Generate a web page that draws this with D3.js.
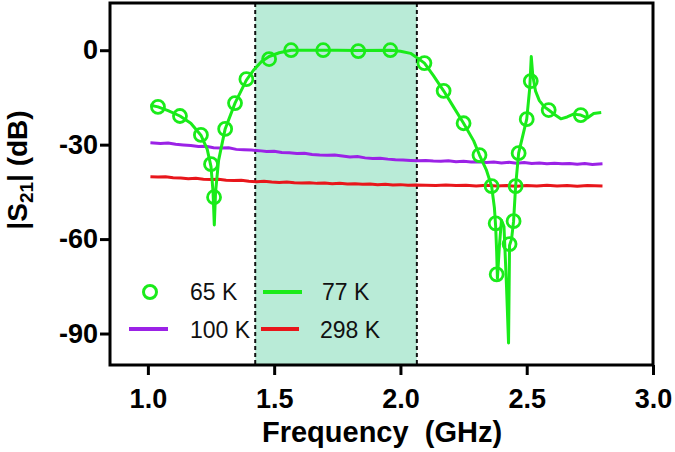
<!DOCTYPE html>
<html><head><meta charset="utf-8">
<script src="https://cdn.jsdelivr.net/npm/d3@7/dist/d3.min.js"></script>
<style>body{margin:0;background:#fff}svg{display:block}</style>
</head><body>
<svg id="c" width="675" height="452"></svg>
<script>
// ---------- data ----------
const xTicks = [1.0, 1.5, 2.0, 2.5, 3.0];
const yTicks = [0, -30, -60, -90];
const band = [1.425, 2.065];

// 65 K (markers)
const f65 = [1.04,1.127,1.21,1.25,1.262,1.306,1.345,1.39,1.48,1.567,1.694,1.833,1.96,2.095,2.171,2.25,2.313,2.361,2.377,2.381,2.432,2.448,2.456,2.468,2.50,2.516,2.587,2.714];
const s65 = [-18.0,-20.9,-26.9,-36.2,-46.7,-25.0,-16.8,-9.2,-2.8,0,0,-0.3,0,-4.1,-12.9,-23.2,-33.3,-43.2,-55.0,-71.2,-61.6,-54.3,-43.2,-32.7,-21.9,-9.8,-19.0,-20.6];

// 77 K (line)
const f77 = [1.01,1.04,1.08,1.127,1.17,1.21,1.235,1.25,1.258,1.263,1.268,1.28,1.306,1.345,1.39,1.42,1.45,1.48,1.52,1.567,1.65,1.75,1.833,1.96,2.0,2.04,2.07,2.095,2.13,2.171,2.21,2.25,2.29,2.313,2.34,2.361,2.372,2.377,2.381,2.384,2.392,2.40,2.41,2.42,2.428,2.432,2.44,2.448,2.456,2.468,2.50,2.512,2.518,2.524,2.535,2.55,2.57,2.587,2.61,2.635,2.66,2.685,2.714,2.74,2.765,2.795];
const s77 = [-17.5,-18.0,-19.2,-20.9,-23.2,-27.0,-31.5,-37.0,-45.0,-55.5,-45.0,-35.0,-25.0,-16.8,-9.5,-6.2,-3.6,-2.0,-0.8,0,0,0,-0.1,0,-0.3,-1.0,-2.6,-4.1,-8.0,-12.9,-18.0,-23.2,-28.8,-33.3,-38.0,-43.2,-50.0,-56.0,-64.0,-72.5,-62.0,-54.0,-56.0,-75.0,-93.0,-62.0,-60.0,-54.3,-43.2,-32.7,-21.9,-12.0,-2.0,-8.0,-13.0,-16.0,-18.0,-19.0,-20.4,-21.8,-21.2,-20.3,-20.6,-21.5,-20.1,-19.8];

// 100 K (line)
const f100 = [1.01,1.05,1.08,1.11,1.14,1.17,1.20,1.23,1.26,1.29,1.32,1.35,1.38,1.41,1.44,1.47,1.50,1.53,1.56,1.59,1.62,1.65,1.68,1.71,1.74,1.77,1.80,1.83,1.86,1.89,1.92,1.95,1.98,2.01,2.04,2.07,2.10,2.13,2.16,2.19,2.22,2.25,2.28,2.31,2.34,2.37,2.40,2.43,2.46,2.49,2.52,2.55,2.58,2.61,2.64,2.67,2.70,2.73,2.76,2.80];
const s100 = [-29.4,-29.6,-29.5,-29.9,-30.1,-30.3,-30.6,-30.5,-31.0,-31.1,-31.0,-31.5,-31.6,-31.7,-31.9,-32.2,-32.1,-32.5,-32.6,-32.8,-32.7,-33.1,-33.3,-33.4,-33.3,-33.6,-33.9,-33.8,-34.2,-34.4,-34.3,-34.6,-34.8,-34.9,-35.0,-35.1,-35.0,-35.2,-35.3,-35.1,-35.4,-35.3,-35.5,-35.4,-35.7,-35.5,-35.8,-35.6,-35.9,-35.7,-36.0,-35.8,-36.1,-35.9,-36.1,-36.0,-36.2,-36.0,-36.3,-36.1];

// 298 K (line)
const f298 = [1.01,1.04,1.07,1.10,1.13,1.16,1.19,1.22,1.25,1.28,1.31,1.34,1.37,1.40,1.43,1.46,1.49,1.52,1.55,1.58,1.61,1.64,1.67,1.70,1.73,1.76,1.79,1.82,1.85,1.88,1.91,1.94,1.97,2.00,2.03,2.06,2.10,2.14,2.18,2.22,2.26,2.30,2.34,2.38,2.42,2.46,2.50,2.54,2.58,2.62,2.66,2.70,2.74,2.80];
const s298 = [-40.2,-40.3,-40.2,-40.5,-40.6,-40.8,-40.7,-41.0,-41.1,-41.0,-41.3,-41.4,-41.3,-41.6,-41.8,-41.6,-41.9,-42.0,-41.9,-42.1,-42.2,-42.1,-42.3,-42.2,-42.4,-42.3,-42.5,-42.4,-42.6,-42.5,-42.7,-42.6,-42.8,-42.7,-42.9,-42.8,-42.9,-43.0,-42.8,-43.0,-42.9,-43.1,-42.9,-43.1,-43.0,-43.2,-43.0,-43.1,-42.9,-43.1,-43.0,-43.2,-43.0,-43.1];

const legendLabels = ["65 K", "77 K", "100 K", "298 K"];
const colors = {green: "#1aeb1a", purple: "#9b22e6", red: "#e8161b"};

// ---------- chart ----------
const svg = d3.select("#c");
const L = 110, R = 653, T = 3, B = 365;
const x = d3.scaleLinear().domain([0.85, 3.0]).range([L, R]);
const y = d3.scaleLinear().domain([15, -100]).range([T, B]);
const FONT = "Liberation Sans, Arial, Helvetica, sans-serif";

// shaded band
svg.append("rect").attr("x", x(band[0])).attr("y", T)
  .attr("width", x(band[1]) - x(band[0])).attr("height", B - T)
  .attr("fill", "#b9ebd7");
band.forEach(b => svg.append("line").attr("x1", x(b)).attr("x2", x(b))
  .attr("y1", T).attr("y2", B).attr("stroke", "#111").attr("stroke-width", 2)
  .attr("stroke-dasharray", "4,3"));

const line = d3.line().x(d => x(d[0])).y(d => y(d[1]));
const zip = (a, b) => a.map((v, i) => [v, b[i]]);

svg.append("path").datum(zip(f298, s298)).attr("d", line)
  .attr("fill", "none").attr("stroke", colors.red).attr("stroke-width", 3);
svg.append("path").datum(zip(f100, s100)).attr("d", line)
  .attr("fill", "none").attr("stroke", colors.purple).attr("stroke-width", 3);
svg.append("path").datum(zip(f77, s77)).attr("d", line)
  .attr("fill", "none").attr("stroke", colors.green).attr("stroke-width", 3)
  .attr("stroke-linejoin", "round");
svg.append("g").selectAll("circle").data(zip(f65, s65)).join("circle")
  .attr("cx", d => x(d[0])).attr("cy", d => y(d[1])).attr("r", 6.5)
  .attr("fill", "none").attr("stroke", colors.green).attr("stroke-width", 2.8);

// frame
svg.append("rect").attr("x", L).attr("y", T).attr("width", R - L).attr("height", B - T)
  .attr("fill", "none").attr("stroke", "#000").attr("stroke-width", 3);

// axes
const xa = svg.append("g").attr("transform", `translate(0,${B})`)
  .call(d3.axisBottom(x).tickValues(xTicks).tickFormat(d3.format(".1f")).tickSize(10).tickPadding(14));
const ya = svg.append("g").attr("transform", `translate(${L},0)`)
  .call(d3.axisLeft(y).tickValues(yTicks).tickFormat(d => d).tickSize(10).tickPadding(2));
[xa, ya].forEach(a => {
  a.select(".domain").remove();
  a.selectAll("line").attr("stroke", "#000").attr("stroke-width", 3);
  a.selectAll("text").attr("font-family", FONT).attr("font-weight", "bold")
    .attr("font-size", 27).attr("fill", "#000");
});

// axis titles
svg.append("text").attr("x", 382).attr("y", 442).attr("text-anchor", "middle")
  .attr("font-family", FONT).attr("font-weight", "bold").attr("font-size", 29)
  .attr("xml:space", "preserve").style("white-space", "pre")
  .text("Frequency  (GHz)");
const yt = svg.append("text").attr("transform", "translate(27,170) rotate(-90)")
  .attr("text-anchor", "middle").attr("font-family", FONT)
  .attr("font-weight", "bold").attr("font-size", 28);
yt.append("tspan").text("|S");
yt.append("tspan").attr("font-size", 19).attr("dy", 6).text("21");
yt.append("tspan").attr("dy", -6).text("| (dB)");

// legend
const lg = svg.append("g").attr("font-family", FONT).attr("font-size", 23).attr("fill", "#111");
lg.append("circle").attr("cx", 150).attr("cy", 292).attr("r", 6.5)
  .attr("fill", "none").attr("stroke", colors.green).attr("stroke-width", 3);
lg.append("line").attr("x1", 263).attr("x2", 302).attr("y1", 292).attr("y2", 292)
  .attr("stroke", colors.green).attr("stroke-width", 4);
lg.append("line").attr("x1", 129).attr("x2", 168).attr("y1", 329).attr("y2", 329)
  .attr("stroke", colors.purple).attr("stroke-width", 4);
lg.append("line").attr("x1", 261).attr("x2", 299).attr("y1", 329).attr("y2", 329)
  .attr("stroke", colors.red).attr("stroke-width", 4);
const lpos = [[190, 300], [322, 300], [190, 338], [320, 338]];
legendLabels.forEach((t, i) => lg.append("text").attr("x", lpos[i][0]).attr("y", lpos[i][1]).text(t));
</script>
</body></html>
